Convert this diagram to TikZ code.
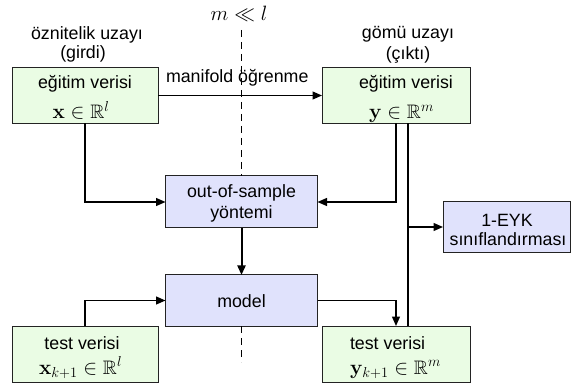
\documentclass[tikz,border=0pt]{standalone}
\usepackage{amsmath,amssymb}
\usepackage[no-math]{fontspec}
\setmainfont{Liberation Sans}
\usetikzlibrary{arrows.meta,calc}
\definecolor{boxgreen}{RGB}{234,252,228}
\definecolor{boxblue}{RGB}{224,226,252}
\definecolor{edge}{RGB}{35,35,35}
\tikzset{
  greenbox/.style={draw=edge,line width=1pt,fill=boxgreen,rectangle,inner sep=0pt,outer sep=0pt},
  bluebox/.style={draw=edge,line width=1pt,fill=boxblue,rectangle,inner sep=0pt,outer sep=0pt},
  txt/.style={inner sep=0pt,outer sep=0pt,font=\fontsize{17.8}{20}\selectfont},
  mth/.style={inner sep=0pt,outer sep=0pt,font=\fontsize{19.5}{22}\selectfont},
  conn/.style={line width=1.3pt,-{Triangle[length=9.5pt,width=8pt]}},
  plainline/.style={line width=1.3pt},
  dividerline/.style={line width=0.9pt,dash pattern=on 7pt off 5pt}
}
\begin{document}
\begin{tikzpicture}[x=1pt,y=-1pt]
\useasboundingbox (0,0) rectangle (571,385);
% dashed divider
\coordinate (dtop) at (241.5,30);
\node[mth,font=\fontsize{20}{22}\selectfont,anchor=base] (mll) at (239,21) {$m \ll l$};
% boxes
\node[greenbox,minimum width=146pt,minimum height=56pt] (L1) at (85,95.5) {};
\node[greenbox,minimum width=148pt,minimum height=56pt] (R1) at (396,95.5) {};
\node[bluebox,minimum width=152pt,minimum height=52pt] (OOS) at (241.5,202) {};
\node[bluebox,minimum width=152pt,minimum height=51pt] (MOD) at (241.5,300.5) {};
\node[greenbox,minimum width=146pt,minimum height=56pt] (L2) at (85,354) {};
\node[greenbox,minimum width=148pt,minimum height=56pt] (R2) at (396,354) {};
\node[bluebox,minimum width=127pt,minimum height=51pt] (EYK) at (506.5,227) {};
\draw[dividerline] (dtop) -- (dtop |- OOS.north);
\draw[dividerline] (dtop |- MOD.south) -- ++(0,36);
% labels above
\node[txt,anchor=base] (lab1) at (87,40) {öznitelik uzayı};
\node[txt,anchor=base] (lab2) at (83,59) {(girdi)};
\node[txt,anchor=base] (lab3) at (408,39) {gömü uzayı};
\node[txt,anchor=base] (lab4) at (408,60) {(çıktı)};
\node[txt,anchor=base west] (mani) at (166,83) {manifold öğrenme};
% box texts
\node[txt,anchor=base] (L1a) at (85,89) {eğitim verisi};
\node[mth,anchor=base] (L1b) at (81,119) {$\mathbf{x}\in\mathbb{R}^{l}$};
\node[txt,anchor=base west] (R1a) at (359,89) {eğitim verisi};
\node[mth,anchor=base west] (R1b) at (369,119) {$\mathbf{y}\in\mathbb{R}^{m}$};
\node[txt,anchor=base] (O1) at (241.5,198) {out-of-sample};
\node[txt,anchor=base] (O2) at (241.5,219) {yöntemi};
\node[txt,anchor=base] (M1) at (241.5,307) {model};
\node[txt,anchor=base] (E1) at (507,226) {1-EYK};
\node[txt,anchor=base] (E2) at (508,246) {sınıflandırması};
\node[txt,anchor=base] (L2a) at (82,349) {test verisi};
\node[mth,anchor=base west] (L2b) at (39,374) {$\mathbf{x}_{k+1}\in\mathbb{R}^{l}$};
\node[txt,anchor=base west] (R2a) at (350,349) {test verisi};
\node[mth,anchor=base west] (R2b) at (350,374) {$\mathbf{y}_{k+1}\in\mathbb{R}^{m}$};
% connectors
\draw[conn] (L1.east) -- (R1.west);
\draw[conn] (L1.south) |- (OOS.west);
\draw[conn] (R1.south) |- (OOS.east);
\coordinate (j) at (408,227);
\draw[plainline] (j |- R1.south) -- (j |- R2.north);
\draw[conn] (j) -- (EYK.west);
\draw[conn,line width=2pt] (OOS.south) -- (MOD.north);
\draw[conn] (L2.north) |- (MOD.west);
\draw[conn] (MOD.east) -| (R2.north);
\end{tikzpicture}
\end{document}
